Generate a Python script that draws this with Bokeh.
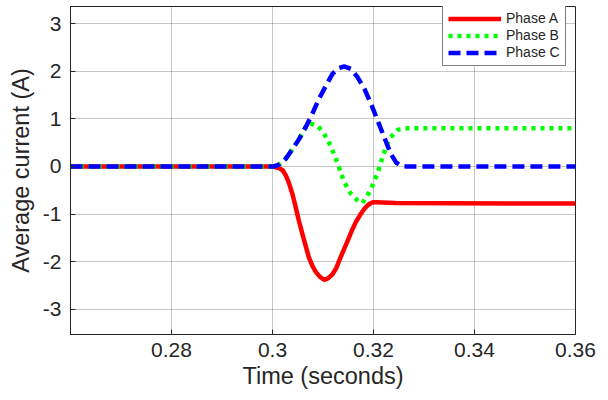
from bokeh.plotting import figure
from bokeh.models import Range1d, FixedTicker, Legend, LegendItem
from bokeh.embed import file_html
from bokeh.resources import INLINE

# ---- data ----
tA = [0.26, 0.3003, 0.3007, 0.3014, 0.3020, 0.3027, 0.3033, 0.3040, 0.3046, 0.3052,
      0.3059, 0.3066, 0.3072, 0.3079, 0.3086, 0.3094, 0.3102, 0.3110, 0.3119,
      0.3126, 0.3132, 0.3140, 0.3149, 0.3157, 0.3165, 0.3174, 0.3182, 0.3189,
      0.3195, 0.3200, 0.3205, 0.3244, 0.36]
phaseA = [0, 0, -0.02, -0.04, -0.08, -0.20, -0.36, -0.60, -0.86, -1.13,
          -1.41, -1.68, -1.91, -2.09, -2.22, -2.32, -2.38, -2.35, -2.26,
          -2.14, -1.98, -1.78, -1.56, -1.35, -1.17, -1.01, -0.89, -0.81,
          -0.77, -0.75, -0.75, -0.77, -0.78]

tB = [0.26, 0.3003, 0.3013, 0.3026, 0.3040, 0.3053, 0.3066, 0.3075, 0.3089,
      0.3102, 0.3115, 0.3129, 0.3142, 0.3155, 0.3168, 0.3178, 0.3188, 0.3198,
      0.3208, 0.3218, 0.3231, 0.3248, 0.3267, 0.3300, 0.36]
phaseB = [0, 0, 0.04, 0.16, 0.37, 0.58, 0.83, 0.90, 0.86,
          0.69, 0.44, 0.06, -0.33, -0.57, -0.71, -0.77, -0.61, -0.40,
          -0.14, 0.20, 0.58, 0.77, 0.80, 0.80, 0.80]

tC = [0.26, 0.3003, 0.3013, 0.3026, 0.3040, 0.3053, 0.3066, 0.3079, 0.3092,
      0.3106, 0.3119, 0.3132, 0.3142, 0.3155, 0.3168, 0.3182, 0.3195, 0.3208,
      0.3221, 0.3234, 0.3245, 0.3255, 0.3265, 0.36]
phaseC = [0, 0, 0.04, 0.16, 0.37, 0.58, 0.83, 1.11, 1.42,
          1.70, 1.95, 2.07, 2.10, 2.05, 1.88, 1.63, 1.32, 0.97,
          0.62, 0.27, 0.08, 0.01, 0, 0]

x_ticks = [0.28, 0.30, 0.32, 0.34, 0.36]
x_tick_labels = ["0.28", "0.3", "0.32", "0.34", "0.36"]
y_ticks = [-3, -2, -1, 0, 1, 2, 3]
y_tick_labels = ["-3", "-2", "-1", "0", "1", "2", "3"]
series_names = ["Phase A", "Phase B", "Phase C"]

FONT = "Liberation Sans"
TXT = "#262626"

p = figure(width=600, height=392, output_backend="svg", toolbar_location=None,
           x_range=Range1d(0.26, 0.36), y_range=Range1d(-3.53, 3.36),
           min_border_left=70, min_border_right=25, min_border_top=6,
           min_border_bottom=58)

p.background_fill_color = "white"
p.outline_line_color = TXT
p.outline_line_width = 1

rA = p.line(tA, phaseA, line_color="#ff0000", line_width=4.5, line_join="round")
rB = p.line(tB, phaseB, line_color="#00ff00", line_width=4.5, line_dash="4 5")
rC = p.line(tC, phaseC, line_color="#0000ff", line_width=4.5, line_dash="12 6")

p.xaxis.ticker = FixedTicker(ticks=x_ticks)
p.xaxis.major_label_overrides = {t: l for t, l in zip(x_ticks, x_tick_labels)}
p.yaxis.ticker = FixedTicker(ticks=y_ticks)
p.yaxis.major_label_overrides = {t: l for t, l in zip(y_ticks, y_tick_labels)}
p.xgrid.ticker = FixedTicker(ticks=x_ticks)
p.ygrid.ticker = FixedTicker(ticks=y_ticks)

for g in (p.xgrid, p.ygrid):
    g.grid_line_color = "#000000"
    g.grid_line_alpha = 0.22
    g.grid_line_width = 1

for ax in (p.xaxis, p.yaxis):
    ax.axis_line_color = TXT
    ax.major_tick_in = 5
    ax.major_tick_out = 0
    ax.minor_tick_line_color = None
    ax.major_tick_line_color = TXT
    ax.major_label_text_font = FONT
    ax.major_label_text_font_size = "21px"
    ax.major_label_text_color = TXT
    ax.axis_label_text_font = FONT
    ax.axis_label_text_font_size = "23.5px"
    ax.axis_label_text_font_style = "normal"
    ax.axis_label_text_color = TXT

p.xaxis.axis_label = "Time (seconds)"
p.yaxis.axis_label = "Average current (A)"
p.xaxis.major_label_standoff = 8
p.yaxis.major_label_standoff = 9
p.xaxis.axis_label_standoff = 3
p.yaxis.axis_label_standoff = 6

legend = Legend(items=[LegendItem(label=series_names[0], renderers=[rA]),
                       LegendItem(label=series_names[1], renderers=[rB]),
                       LegendItem(label=series_names[2], renderers=[rC])],
                location=(372, 268))
legend.border_line_color = "#000000"
legend.border_line_width = 1
legend.background_fill_color = "white"
legend.background_fill_alpha = 1
legend.label_text_font = FONT
legend.label_text_font_size = "14px"
legend.label_text_color = TXT
legend.glyph_width = 53
legend.glyph_height = 15
legend.label_height = 15
legend.label_standoff = 5
legend.spacing = 1
legend.padding = 5
legend.margin = 0
p.add_layout(legend, "center")

open("out.html", "w").write(file_html(p, INLINE))
